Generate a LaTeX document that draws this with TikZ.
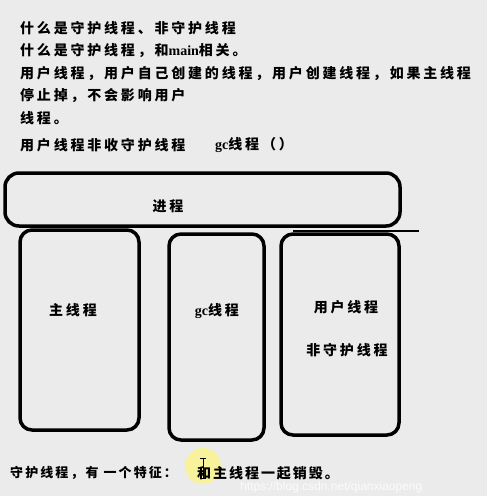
\documentclass[tikz,border=0pt]{standalone}
\usepackage{fontspec}
\newfontfamily\cjk{Noto Sans CJK SC}[LetterSpace=20]
\newfontfamily\cjktight{Noto Sans CJK SC}[LetterSpace=16]
\newfontfamily\cjkmid{Noto Sans CJK SC}[LetterSpace=14]
\newfontfamily\lat{Liberation Serif}
\newfontfamily\wmfont{Liberation Sans}
\newcommand{\lt}[1]{{\lat\bfseries #1}}
\begin{document}
\begin{tikzpicture}[x=1pt,y=-1pt,
  txt/.style={anchor=west,inner sep=0pt,font=\cjk\bfseries\fontsize{14}{14}\selectfont},
  lbl/.style={inner sep=0pt,font=\cjk\bfseries\fontsize{14}{14}\selectfont},
  frame/.style={draw=black,line width=3.5pt,rounded corners=12pt}]
\useasboundingbox[fill={rgb,255:red,235;green,235;blue,235}] (0,0) rectangle (487,496);
% header text
\node[txt] (l1) at (20,28) {什么是守护线程、非守护线程};
\node[txt] (l2) at (20,51) {什么是守护线程，和\lt{main}相关。};
\node[txt] (l3) at (20,74) {用户线程，用户自己创建的线程，用户创建线程，如果主线程};
\node[txt] (l4) at (20,96) {停止掉，不会影响用户};
\node[txt] (l5) at (20,118) {线程。};
\node[txt] (l6) at (20,145) {用户线程非收守护线程};
\node[txt] (l7) at (215,145) {\lt{gc}线程（）};
% process box
\draw[frame,rounded corners=14pt] (5,173) rectangle (400,226);
\node[lbl] (proc) at (168,206) {进程};
\coordinate (la) at (293,231);
\coordinate (lb) at (419,231);
\draw[line width=1.2pt] (la) -- (lb);
% thread boxes
\draw[frame] (20,230) rectangle (139,430);
\node[lbl] (main) at (73,310) {主线程};
\draw[frame] (169,234) rectangle (264,440);
\node[lbl] (gc) at (217,311) {\lt{gc}线程};
\draw[frame] (281,234) rectangle (399,435);
\node[lbl] (user) at (346,307) {用户线程};
\node[lbl] (nond) at (347,350) {非守护线程};
% cursor highlight
\fill[yellow!60!white,opacity=0.6] (203,466) circle (18);
\draw[line width=0.8pt] (203,458) -- (203,478) (200,458) -- (206,458) (200,478) -- (206,478);
% bottom text
\node[txt,font=\cjktight\bfseries\fontsize{13}{13}\selectfont] (b1) at (10,473) {守护线程，有 一个特征：};
\node[txt,font=\cjkmid\bfseries\fontsize{14}{14}\selectfont] (b2) at (197,473) {和主线程一起销毁。};
\node[anchor=west,inner sep=0pt,text=white,opacity=0.85,font=\wmfont\fontsize{12}{12}\selectfont] (wm) at (240,487) {https://blog.csdn.net/qianxiaopeng};
\end{tikzpicture}
\end{document}
